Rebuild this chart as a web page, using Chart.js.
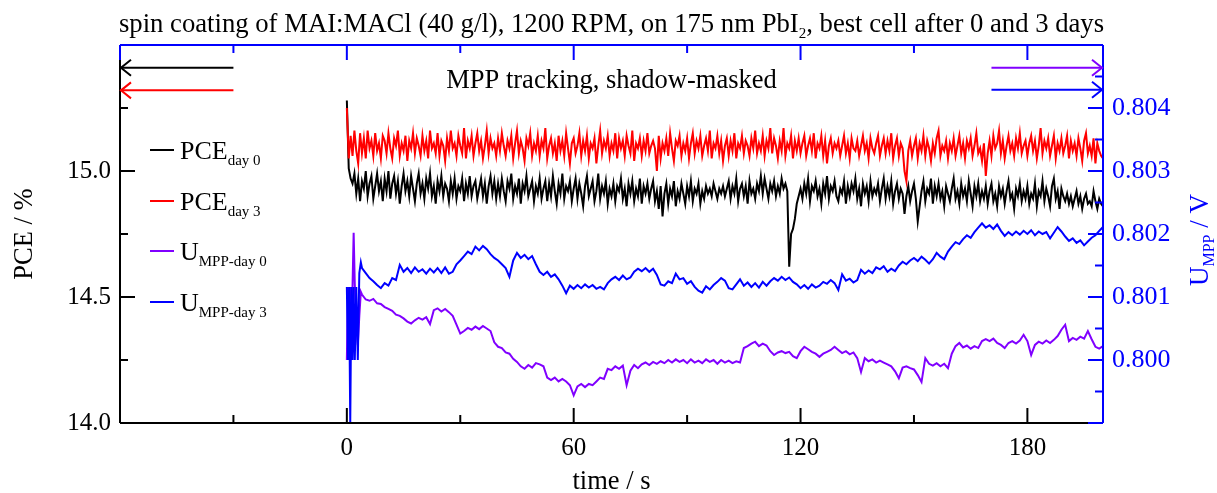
<!DOCTYPE html>
<html>
<head>
<meta charset="utf-8">
<script src="https://cdn.jsdelivr.net/npm/chart.js@4.4.1/dist/chart.umd.min.js"></script>
<style>
  html, body { margin: 0; padding: 0; background: #fff; }
  canvas { display: block; }
</style>
</head>
<body>
<canvas id="mppChart" width="1217" height="493"></canvas>
<script>
const SERIF = '"Liberation Serif", "Times New Roman", serif';

// PCE sampled every 0.5 s from 0 to 200 s
const PCE_STEP = 0.5;
const pceDay0 = [
  15.28, 15.01, 14.97, 14.95, 14.99, 14.91, 14.97, 14.88, 14.96, 14.93, 15.00, 14.90, 14.95, 14.98, 14.89, 14.94, 14.99, 14.92, 14.96, 14.88,
  14.97, 14.92, 15.00, 14.89, 14.95, 14.98, 14.91, 14.96, 14.87, 14.94, 14.99, 14.92, 14.96, 14.90, 14.98, 14.93, 14.88, 14.95, 14.99, 14.91,
  14.95, 14.89, 14.97, 14.93, 14.99, 14.90, 14.94, 14.87, 14.96, 14.92, 14.98, 14.90, 14.95, 14.93, 14.88, 14.96, 14.91, 14.97, 14.89, 14.94,
  14.92, 14.97, 14.88, 14.95, 14.91, 14.98, 14.90, 14.94, 14.96, 14.89, 14.93, 14.97, 14.90, 14.95, 14.87, 14.94, 14.98, 14.91, 14.96, 14.89,
  14.95, 14.90, 14.97, 14.92, 14.88, 14.96, 14.93, 14.99, 14.89, 14.94, 14.91, 14.97, 14.87, 14.95, 14.92, 14.98, 14.90, 14.93, 14.96, 14.88,
  14.94, 14.91, 14.97, 14.89, 14.93, 14.96, 14.88, 14.95, 14.90, 14.98, 14.92, 14.87, 14.95, 14.91, 14.99, 14.89, 14.94, 14.92, 14.96, 14.88,
  14.93, 14.97, 14.89, 14.95, 14.91, 14.86, 14.94, 14.98, 14.90, 14.93, 14.96, 14.88, 14.92, 14.99, 14.89, 14.94, 14.91, 14.96, 14.87, 14.93,
  14.90, 14.95, 14.88, 14.94, 14.92, 14.97, 14.89, 14.93, 14.86, 14.95, 14.91, 14.96, 14.88, 14.93, 14.90, 14.97, 14.87, 14.94, 14.91, 14.95,
  14.89, 14.93, 14.96, 14.88, 14.92, 14.85, 14.94, 14.82, 14.91, 14.95, 14.87, 14.93, 14.90, 14.96, 14.86, 14.92, 14.89, 14.95, 14.91, 14.87,
  14.94, 14.90, 14.96, 14.88, 14.93, 14.91, 14.95, 14.87, 14.92, 14.89, 14.94, 14.91, 14.93, 14.90, 14.95, 14.92, 14.89, 14.93, 14.91, 14.94,
  14.90, 14.93, 14.96, 14.89, 14.94, 14.91, 14.97, 14.88, 14.93, 14.95, 14.90, 14.94, 14.87, 14.96, 14.91, 14.93, 14.89, 14.95, 14.92, 14.98,
  14.91, 14.97, 14.93, 14.89, 14.95, 14.92, 14.96, 14.90, 14.94, 14.91, 14.97, 14.93, 14.95, 14.92, 14.62, 14.75, 14.77, 14.81, 14.87, 14.90,
  14.93, 14.89, 14.95, 14.91, 14.97, 14.88, 14.94, 14.92, 14.96, 14.90, 14.93, 14.87, 14.95, 14.91, 14.98, 14.89, 14.94, 14.92, 14.96, 14.90,
  14.88, 14.93, 14.91, 14.96, 14.87, 14.94, 14.90, 14.95, 14.92, 14.97, 14.89, 14.93, 14.86, 14.95, 14.91, 14.94, 14.88, 14.96, 14.90, 14.93,
  14.91, 14.95, 14.88, 14.93, 14.97, 14.89, 14.94, 14.90, 14.96, 14.87, 14.92, 14.95, 14.89, 14.93, 14.91, 14.83, 14.90, 14.94, 14.88, 14.92,
  14.95, 14.89, 14.80, 14.86, 14.92, 14.96, 14.88, 14.93, 14.91, 14.97, 14.87, 14.94, 14.90, 14.95, 14.89, 14.92, 14.86, 14.94, 14.91, 14.88,
  14.93, 14.97, 14.89, 14.92, 14.87, 14.95, 14.90, 14.93, 14.88, 14.96, 14.91, 14.86, 14.94, 14.90, 14.95, 14.88, 14.92, 14.89, 14.94, 14.87,
  14.92, 14.95, 14.88, 14.91, 14.86, 14.94, 14.90, 14.93, 14.87, 14.92, 14.96, 14.89, 14.91, 14.85, 14.93, 14.90, 14.95, 14.88, 14.92, 14.89,
  14.94, 14.87, 14.91, 14.89, 14.95, 14.86, 14.92, 14.90, 14.96, 14.88, 14.93, 14.90, 14.86, 14.94, 14.97, 14.89, 14.92, 14.85, 14.93, 14.90,
  14.88, 14.91, 14.87, 14.90, 14.86, 14.89, 14.92, 14.87, 14.90, 14.85, 14.89, 14.91, 14.87, 14.88, 14.86, 14.92, 14.88, 14.85, 14.89, 14.87,
  14.86
];
const pceDay3 = [
  15.25, 15.05, 15.14, 15.06, 15.16, 15.08, 15.03, 15.15, 15.07, 15.13, 15.05, 15.16, 15.09, 15.12, 15.06, 15.15, 15.08, 15.11, 15.05, 15.14,
  15.12, 15.07, 15.15, 15.09, 15.05, 15.13, 15.10, 15.16, 15.06, 15.11, 15.08, 15.14, 15.04, 15.12, 15.09, 15.15, 15.07, 15.13, 15.10, 15.06,
  15.14, 15.08, 15.12, 15.05, 15.16, 15.09, 15.11, 15.07, 15.15, 15.06, 15.12, 15.10, 15.04, 15.13, 15.08, 15.16, 15.09, 15.11, 15.06, 15.14,
  15.10, 15.07, 15.17, 15.05, 15.12, 15.09, 15.14, 15.06, 15.11, 15.15, 15.08, 15.12, 15.05, 15.10, 15.16, 15.07, 15.13, 15.09, 15.11, 15.06,
  15.13, 15.08, 15.15, 15.10, 15.06, 15.12, 15.09, 15.14, 15.05, 15.11, 15.16, 15.07, 15.12, 15.09, 15.04, 15.13, 15.10, 15.15, 15.06, 15.11,
  15.08, 15.14, 15.06, 15.12, 15.09, 15.17, 15.05, 15.10, 15.13, 15.07, 15.11, 15.04, 15.14, 15.08, 15.12, 15.06, 15.15, 15.09, 15.03, 15.11,
  15.13, 15.07, 15.10, 15.15, 15.06, 15.12, 15.08, 15.14, 15.05, 15.11, 15.09, 15.13, 15.03, 15.10, 15.16, 15.07, 15.12, 15.09, 15.14, 15.06,
  15.11, 15.08, 15.15, 15.05, 15.13, 15.09, 15.12, 15.06, 15.14, 15.10, 15.07, 15.16, 15.04, 15.11, 15.09, 15.13, 15.06, 15.12, 15.08, 15.15,
  15.07, 15.10, 15.12, 15.09, 15.00, 15.14, 15.05, 15.11, 15.08, 15.13, 15.06, 15.15, 15.09, 15.04, 15.12, 15.10, 15.14, 15.06, 15.11, 15.08,
  15.13, 15.05, 15.11, 15.15, 15.07, 15.12, 15.09, 15.14, 15.06, 15.10, 15.13, 15.08, 15.16, 15.05, 15.11, 15.09, 15.14, 15.07, 15.12, 15.04,
  15.10, 15.13, 15.06, 15.12, 15.08, 15.15, 15.05, 15.11, 15.09, 15.14, 15.07, 15.12, 15.10, 15.06, 15.13, 15.09, 15.16, 15.07, 15.11, 15.08,
  15.14, 15.06, 15.12, 15.09, 15.17, 15.07, 15.13, 15.10, 15.05, 15.12, 15.08, 15.17, 15.06, 15.11, 15.09, 15.14, 15.05, 15.12, 15.08, 15.13,
  15.07, 15.11, 15.14, 15.06, 15.10, 15.13, 15.08, 15.15, 15.05, 15.11, 15.09, 15.14, 15.06, 15.12, 15.03, 15.10, 15.13, 15.07, 15.11, 15.09,
  15.12, 15.06, 15.10, 15.14, 15.07, 15.11, 15.05, 15.13, 15.09, 15.08, 15.12, 15.06, 15.10, 15.14, 15.08, 15.11, 15.05, 15.13, 15.09, 15.07,
  15.11, 15.14, 15.06, 15.10, 15.13, 15.07, 15.12, 15.08, 15.15, 15.05, 15.10, 15.13, 15.06, 15.11, 15.09, 15.00, 14.96, 15.08, 15.12, 15.06,
  15.10, 15.13, 15.05, 15.11, 15.08, 15.14, 15.06, 15.12, 15.09, 15.04, 15.11, 15.07, 15.13, 15.16, 15.06, 15.10, 15.08, 15.12, 15.05, 15.11,
  15.08, 15.13, 15.06, 15.10, 15.14, 15.07, 15.11, 15.05, 15.12, 15.09, 15.13, 15.06, 15.10, 15.15, 15.07, 15.09, 15.04, 15.11, 14.98, 15.07,
  15.12, 15.06, 15.14, 15.09, 15.11, 15.16, 15.07, 15.12, 15.05, 15.10, 15.14, 15.08, 15.11, 15.06, 15.13, 15.09, 15.15, 15.07, 15.10, 15.12,
  15.06, 15.11, 15.14, 15.08, 15.12, 15.05, 15.10, 15.17, 15.07, 15.12, 15.09, 15.13, 15.06, 15.10, 15.14, 15.05, 15.11, 15.08, 15.13, 15.07,
  15.10, 15.14, 15.05, 15.12, 15.08, 15.11, 15.06, 15.13, 15.09, 15.04, 15.12, 15.15, 15.07, 15.10, 15.06, 15.13, 15.03, 15.11, 15.08, 15.06,
  15.05
];

// U_MPP: dense start-up samples, then one sample per second from 4 s to 200 s
const uTime = [0, 0.3, 0.6, 0.9, 1.2, 1.5, 1.8, 2.1, 2.5, 2.9, 3.3, 3.7,
  4, 5, 6, 7, 8, 9, 10, 11, 12, 13, 14, 15, 16, 17, 18, 19, 20, 21, 22, 23, 24, 25, 26, 27, 28, 29, 30, 31, 32, 33, 34, 35, 36, 37, 38, 39,
  40, 41, 42, 43, 44, 45, 46, 47, 48, 49, 50, 51, 52, 53, 54, 55, 56, 57, 58, 59, 60, 61, 62, 63, 64, 65, 66, 67, 68, 69, 70, 71, 72, 73,
  74, 75, 76, 77, 78, 79, 80, 81, 82, 83, 84, 85, 86, 87, 88, 89, 90, 91, 92, 93, 94, 95, 96, 97, 98, 99, 100, 101, 102, 103, 104, 105,
  106, 107, 108, 109, 110, 111, 112, 113, 114, 115, 116, 117, 118, 119, 120, 121, 122, 123, 124, 125, 126, 127, 128, 129, 130, 131, 132,
  133, 134, 135, 136, 137, 138, 139, 140, 141, 142, 143, 144, 145, 146, 147, 148, 149, 150, 151, 152, 153, 154, 155, 156, 157, 158, 159,
  160, 161, 162, 163, 164, 165, 166, 167, 168, 169, 170, 171, 172, 173, 174, 175, 176, 177, 178, 179, 180, 181, 182, 183, 184, 185, 186,
  187, 188, 189, 190, 191, 192, 193, 194, 195, 196, 197, 198, 199, 200];
const uDay0 = [
  0.80000, 0.80116, 0.80000, 0.80116, 0.80000, 0.80116, 0.80202, 0.80120, 0.80060, 0.80024, 0.80070, 0.80108,
  0.80104, 0.80096, 0.80094, 0.80097, 0.80090, 0.80089, 0.80084, 0.80081, 0.80078, 0.80072,
  0.80070, 0.80066, 0.80061, 0.80058, 0.80063, 0.80067, 0.80064, 0.80068, 0.80057, 0.80079,
  0.80082, 0.80077, 0.80081, 0.80076, 0.80070, 0.80056, 0.80042, 0.80046, 0.80051, 0.80048,
  0.80053, 0.80049, 0.80054, 0.80050, 0.80046, 0.80028, 0.80021, 0.80019, 0.80012, 0.80010,
  0.80002, 0.79997, 0.79990, 0.79986, 0.79992, 0.79988, 0.79995, 0.79993, 0.79990, 0.79972,
  0.79968, 0.79972, 0.79966, 0.79970, 0.79966, 0.79960, 0.79944, 0.79958, 0.79962, 0.79957,
  0.79962, 0.79960, 0.79966, 0.79972, 0.79970, 0.79986, 0.79984, 0.79990, 0.79986, 0.79991,
  0.79960, 0.79983, 0.79992, 0.79987, 0.79993, 0.79996, 0.79992, 0.79997, 0.79994, 0.79998,
  0.79995, 0.80000, 0.79996, 0.80001, 0.79997, 0.80000, 0.79995, 0.80001, 0.79996, 0.79999,
  0.79995, 0.80001, 0.79997, 0.80000, 0.79994, 0.80000, 0.79996, 0.79999, 0.79995, 0.79998,
  0.79996, 0.80019, 0.80022, 0.80026, 0.80029, 0.80022, 0.80026, 0.80023, 0.80014, 0.80008,
  0.80012, 0.80014, 0.80011, 0.80013, 0.80006, 0.80003, 0.80014, 0.80021, 0.80017, 0.80013,
  0.80010, 0.80005, 0.80010, 0.80013, 0.80016, 0.80021, 0.80016, 0.80011, 0.80014, 0.80009,
  0.80012, 0.80003, 0.79981, 0.80003, 0.79998, 0.80001, 0.79996, 0.79999, 0.79996, 0.79993,
  0.79990, 0.79982, 0.79971, 0.79988, 0.79990, 0.79987, 0.79985, 0.79976, 0.79965, 0.80003,
  0.79994, 0.79991, 0.79995, 0.79990, 0.79994, 0.79987, 0.80010, 0.80022, 0.80027, 0.80020,
  0.80023, 0.80018, 0.80022, 0.80019, 0.80030, 0.80033, 0.80030, 0.80034, 0.80027, 0.80024,
  0.80019, 0.80027, 0.80030, 0.80026, 0.80031, 0.80040, 0.80030, 0.80008, 0.80024, 0.80029,
  0.80026, 0.80031, 0.80027, 0.80032, 0.80038, 0.80048, 0.80056, 0.80030, 0.80035, 0.80032,
  0.80037, 0.80034, 0.80046, 0.80033, 0.80021, 0.80018, 0.80022
];
const uDay3 = [
  0.80116, 0.80000, 0.80116, 0.79900, 0.80116, 0.80000, 0.80116, 0.80000, 0.80116, 0.80000, 0.80138, 0.80155,
  0.80146, 0.80138, 0.80130, 0.80125, 0.80119, 0.80114, 0.80122, 0.80118, 0.80130, 0.80127,
  0.80151, 0.80140, 0.80146, 0.80138, 0.80147, 0.80140, 0.80144, 0.80137, 0.80145, 0.80139,
  0.80146, 0.80138, 0.80147, 0.80137, 0.80140, 0.80152, 0.80158, 0.80165, 0.80172, 0.80168,
  0.80180, 0.80174, 0.80181, 0.80176, 0.80168, 0.80162, 0.80158, 0.80152, 0.80146, 0.80132,
  0.80158, 0.80170, 0.80162, 0.80167, 0.80160, 0.80165, 0.80152, 0.80140, 0.80135, 0.80140,
  0.80132, 0.80136, 0.80128, 0.80118, 0.80106, 0.80118, 0.80113, 0.80119, 0.80114, 0.80120,
  0.80115, 0.80119, 0.80113, 0.80116, 0.80112, 0.80122, 0.80128, 0.80132, 0.80127, 0.80134,
  0.80128, 0.80131, 0.80140, 0.80145, 0.80141, 0.80146, 0.80140, 0.80145, 0.80135, 0.80120,
  0.80118, 0.80125, 0.80122, 0.80137, 0.80128, 0.80130, 0.80121, 0.80125, 0.80116, 0.80110,
  0.80107, 0.80117, 0.80112, 0.80119, 0.80124, 0.80130, 0.80126, 0.80114, 0.80112, 0.80120,
  0.80128, 0.80118, 0.80123, 0.80116, 0.80122, 0.80115, 0.80124, 0.80118, 0.80125, 0.80130,
  0.80126, 0.80132, 0.80127, 0.80131, 0.80124, 0.80120, 0.80114, 0.80119, 0.80113, 0.80120,
  0.80115, 0.80118, 0.80124, 0.80121, 0.80127, 0.80122, 0.80111, 0.80136, 0.80126, 0.80129,
  0.80123, 0.80127, 0.80143, 0.80137, 0.80142, 0.80138, 0.80147, 0.80144, 0.80149, 0.80140,
  0.80145, 0.80141, 0.80150, 0.80156, 0.80152, 0.80158, 0.80162, 0.80157, 0.80164, 0.80159,
  0.80153, 0.80160, 0.80170, 0.80164, 0.80160, 0.80172, 0.80180, 0.80187, 0.80184, 0.80192,
  0.80198, 0.80194, 0.80203, 0.80210, 0.80217, 0.80210, 0.80214, 0.80208, 0.80215, 0.80205,
  0.80197, 0.80203, 0.80198, 0.80204, 0.80199, 0.80205, 0.80200, 0.80206, 0.80198, 0.80204,
  0.80200, 0.80203, 0.80193, 0.80202, 0.80211, 0.80204, 0.80196, 0.80189, 0.80193, 0.80186,
  0.80190, 0.80182, 0.80188, 0.80194, 0.80198, 0.80205, 0.80211
];

// axis ranges and labelled ticks
const xRange = [-60, 200];
const pceRange = [14.0, 15.5];
const uRange = [0.799, 0.805];
const xLabels = [0, 60, 120, 180];
const pceLabels = [14.0, 14.5, 15.0];
const uLabels = [0.800, 0.801, 0.802, 0.803, 0.804];

// annotation arrows: [x from, x to, level, colour]
const pceArrows = [[-30, -60, 15.41, '#000000'], [-30, -60, 15.32, '#ff0000']];
const uArrows = [[170.5, 200, 0.80464, '#8000ff'], [170.5, 200, 0.80429, '#0000ff']];

const titleParts = [['spin coating of MAI:MACl (40 g/l), 1200 RPM, on 175 nm PbI', false], ['2', true], [', best cell after 0 and 3 days', false]];
const noteText = 'MPP tracking, shadow-masked';

const pceTime = pceDay0.map((_, i) => i * PCE_STEP);
const toPoints = (ts, vs) => vs.map((v, i) => ({ x: ts[i], y: v }));

const series = [
  { main: 'PCE', sub: 'day 0', color: '#000000', axis: 'y', pts: toPoints(pceTime, pceDay0) },
  { main: 'PCE', sub: 'day 3', color: '#ff0000', axis: 'y', pts: toPoints(pceTime, pceDay3) },
  { main: 'U', sub: 'MPP-day 0', color: '#8000ff', axis: 'y2', pts: toPoints(uTime, uDay0) },
  { main: 'U', sub: 'MPP-day 3', color: '#0000ff', axis: 'y2', pts: toPoints(uTime, uDay3) }
];

function richText(ctx, parts, x, y, size, color, align) {
  const subSize = Math.round(size * 0.58);
  let w = 0;
  parts.forEach(([t, sub]) => {
    ctx.font = (sub ? subSize : size) + 'px ' + SERIF;
    w += ctx.measureText(t).width;
  });
  let cx = align === 'center' ? x - w / 2 : x;
  ctx.fillStyle = color;
  ctx.textAlign = 'left';
  ctx.textBaseline = 'alphabetic';
  parts.forEach(([t, sub]) => {
    ctx.font = (sub ? subSize : size) + 'px ' + SERIF;
    ctx.fillText(t, cx, sub ? y + size * 0.24 : y);
    cx += ctx.measureText(t).width;
  });
}

function seg(ctx, x1, y1, x2, y2, color) {
  ctx.strokeStyle = color;
  ctx.beginPath();
  ctx.moveTo(x1, y1);
  ctx.lineTo(x2, y2);
  ctx.stroke();
}

const decor = {
  id: 'decor',
  afterDraw(chart) {
    const { ctx, chartArea: a, scales } = chart;
    const { x, y, y2 } = scales;
    ctx.save();
    ctx.lineWidth = 2;

    // frame: black left/bottom, blue top/right, ticks pointing inward
    seg(ctx, a.left, a.top, a.left, a.bottom, '#000');
    seg(ctx, a.left, a.bottom, a.right, a.bottom, '#000');
    for (let i = 0; i <= 6; i++) {
      const py = y.getPixelForValue(14 + i * 0.25);
      seg(ctx, a.left, py, a.left + (i % 2 === 0 ? 15 : 8), py, '#000');
    }
    for (let i = 0; i <= 8; i++) {
      const px = x.getPixelForValue(-60 + i * 30);
      seg(ctx, px, a.bottom, px, a.bottom - (i % 2 === 0 ? 15 : 8), '#000');
    }
    seg(ctx, a.left, a.top, a.right, a.top, '#0000ff');
    seg(ctx, a.right, a.top, a.right, a.bottom, '#0000ff');
    for (let i = 0; i <= 8; i++) {
      const px = x.getPixelForValue(-60 + i * 30);
      seg(ctx, px, a.top, px, a.top + (i % 2 === 0 ? 15 : 8), '#0000ff');
    }
    for (let i = 0; i <= 12; i++) {
      const py = y2.getPixelForValue(0.799 + i * 0.0005);
      seg(ctx, a.right, py, a.right - (i % 2 === 0 ? 15 : 8), py, '#0000ff');
    }

    // arrows
    const arrow = (x1, x2, py, color) => {
      const dir = x2 > x1 ? -1 : 1;
      seg(ctx, x1, py, x2, py, color);
      ctx.beginPath();
      ctx.moveTo(x2 + dir * 11, py - 8);
      ctx.lineTo(x2 + dir * 1, py);
      ctx.lineTo(x2 + dir * 11, py + 8);
      ctx.stroke();
    };
    pceArrows.forEach(([f, t, v, c]) => arrow(x.getPixelForValue(f), x.getPixelForValue(t), y.getPixelForValue(v), c));
    uArrows.forEach(([f, t, v, c]) => arrow(x.getPixelForValue(f), x.getPixelForValue(t), y2.getPixelForValue(v), c));

    const mid = (a.left + a.right) / 2;
    richText(ctx, titleParts, mid, 32, 26.7, '#000', 'center');
    richText(ctx, [[noteText, false]], mid, 88, 26.5, '#000', 'center');

    // legend with subscripts
    const legendY = [150, 201, 251, 302];
    series.forEach((s, i) => {
      seg(ctx, 150, legendY[i], 174, legendY[i], s.color);
      richText(ctx, [[s.main, false], [s.sub, true]], 180, legendY[i] + 9, 26, '#000', 'left');
    });

    // axis titles
    richText(ctx, [['time / s', false]], mid, 489, 26.5, '#000', 'center');
    ctx.save();
    ctx.translate(32, (a.top + a.bottom) / 2);
    ctx.rotate(-Math.PI / 2);
    richText(ctx, [['PCE / %', false]], 0, 0, 26.5, '#000', 'center');
    ctx.restore();
    ctx.save();
    ctx.translate(1208, 240);
    ctx.rotate(-Math.PI / 2);
    richText(ctx, [['U', false], ['MPP', true], [' / V', false]], 0, 0, 27, '#0000ff', 'center');
    ctx.restore();

    ctx.restore();
  }
};

const tickFont = { family: SERIF, size: 25 };

new Chart(document.getElementById('mppChart'), {
  type: 'line',
  data: {
    datasets: series.map((s, i) => ({
      label: s.main + ' ' + s.sub,
      data: s.pts,
      yAxisID: s.axis,
      borderColor: s.color,
      backgroundColor: s.color,
      borderWidth: 2,
      pointRadius: 0,
      tension: 0,
      fill: false,
      order: 4 - i
    }))
  },
  options: {
    responsive: false,
    animation: false,
    devicePixelRatio: 1,
    layout: { padding: { top: 45, left: 0, right: 0, bottom: 0 } },
    plugins: { legend: { display: false }, tooltip: { enabled: false } },
    scales: {
      x: {
        type: 'linear', position: 'bottom', min: xRange[0], max: xRange[1],
        grid: { display: false, drawTicks: false }, border: { display: false },
        afterBuildTicks: s => { s.ticks = xLabels.map(value => ({ value })); },
        afterFit: s => { s.height = 70; },
        ticks: { font: tickFont, color: '#000', padding: 10, autoSkip: false, maxRotation: 0, callback: v => String(v) }
      },
      y: {
        type: 'linear', position: 'left', min: pceRange[0], max: pceRange[1],
        grid: { display: false, drawTicks: false }, border: { display: false },
        afterBuildTicks: s => { s.ticks = pceLabels.map(value => ({ value })); },
        afterFit: s => { s.width = 120; },
        ticks: { font: tickFont, color: '#000', padding: 9, autoSkip: false, callback: v => v.toFixed(1) }
      },
      y2: {
        type: 'linear', position: 'right', min: uRange[0], max: uRange[1],
        grid: { display: false, drawTicks: false }, border: { display: false },
        afterBuildTicks: s => { s.ticks = uLabels.map(value => ({ value })); },
        afterFit: s => { s.width = 114; },
        ticks: { font: { family: SERIF, size: 26 }, color: '#0000ff', padding: 9, autoSkip: false, callback: v => v.toFixed(3) }
      }
    }
  },
  plugins: [decor]
});
</script>
</body>
</html>
